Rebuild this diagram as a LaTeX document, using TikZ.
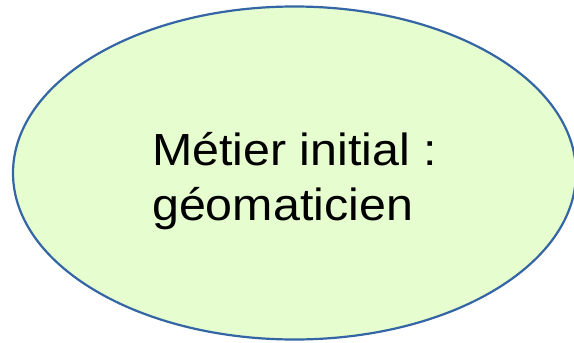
\documentclass[tikz,border=0pt]{standalone}
\usepackage{fontspec}
\setmainfont{Liberation Sans}
\usetikzlibrary{shapes.geometric}
\definecolor{fillgreen}{RGB}{229,253,207}
\definecolor{edgeblue}{RGB}{52,101,164}
\tikzset{
  bubble/.style={ellipse, draw=edgeblue, fill=fillgreen, line width=2.2pt, inner sep=0pt},
  label/.style={anchor=base west, inner sep=0pt, font=\fontsize{45}{55}\selectfont, text=black}
}
\begin{document}
\begin{tikzpicture}[x=1pt,y=-1pt]
\useasboundingbox (0,0) rectangle (574,343);
\node[bubble, minimum width=563pt, minimum height=333pt] (oval) at (294.5,173) {};
\node[label] (l1) at (152,165) {\scalebox{1.075}[1]{Métier initial :}};
\node[label] (l2) at (152,220) {\scalebox{1.075}[1]{géomaticien}};
\end{tikzpicture}
\end{document}
